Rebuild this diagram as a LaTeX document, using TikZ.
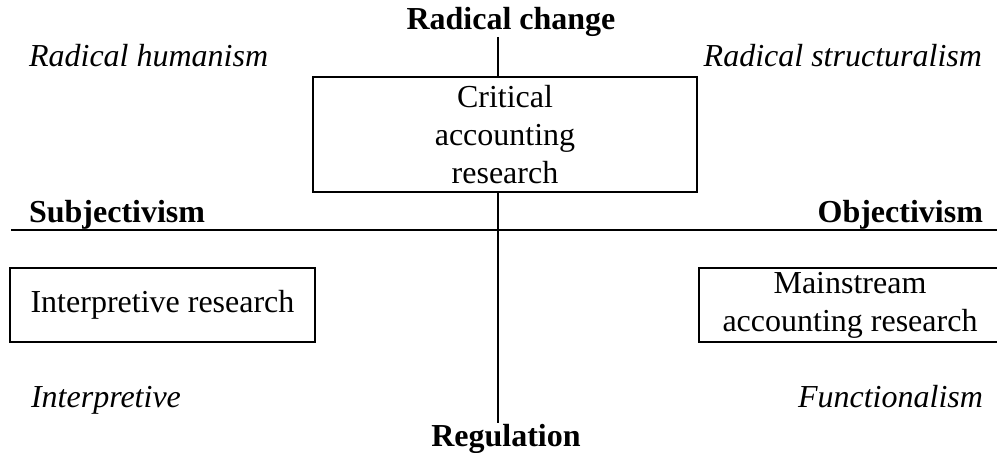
\documentclass[tikz,border=0pt]{standalone}
\usepackage{fontspec}
\setmainfont{Liberation Serif}
\usepackage{tikz}
\usetikzlibrary{positioning}
\tikzset{
  axis/.style={line width=1pt},
  paradigm/.style={draw,line width=1pt,align=center,inner sep=0pt,font=\fontsize{16}{19}\selectfont},
  pole/.style={font=\fontsize{16}{19}\selectfont\bfseries},
  quadrant/.style={font=\fontsize{16}{19}\selectfont\itshape}
}

\begin{document}
\begin{tikzpicture}[x=0.5pt,y=-0.5pt]
    \useasboundingbox (0,0) rectangle (997,453);
    % poles of the two axes
    \node[pole,anchor=base] (change) at (511,30) {Radical change};
    \node[pole,anchor=base] (regul) at (506,447) {Regulation};
    \node[pole,anchor=base west] (subj) at (22,223) {Subjectivism};
    \node[pole,anchor=base east] (obj) at (990,223) {Objectivism};
    % the four quadrants
    \node[quadrant,anchor=base west] (humanism) at (22,67) {Radical humanism};
    \node[quadrant,anchor=base east] (structural) at (989,67) {Radical structuralism};
    \node[quadrant,anchor=base west] (interpq) at (24,408) {Interpretive};
    \node[quadrant,anchor=base east] (funct) at (990,408) {Functionalism};
    % research boxes
    \node[paradigm,minimum width=192pt,minimum height=57.5pt] (critical) at (505,134.5) {Critical\\accounting\\research};
    \node[paradigm,minimum width=152.5pt,minimum height=37pt] (interp) at (162.5,305) {Interpretive research};
    \node[paradigm,minimum width=151pt,minimum height=37pt] (mainstr) at (850,305) {Mainstream\\accounting research};
    % axes
    \coordinate (top) at (498,37);
    \coordinate (bottom) at (498,423);
    \coordinate (left) at (11,230);
    \coordinate (right) at (997,230);
    \draw[axis] (top) -- (top |- critical.north);
    \draw[axis] (bottom |- critical.south) -- (bottom);
    \draw[axis] (left) -- (right);
\end{tikzpicture}
\end{document}
